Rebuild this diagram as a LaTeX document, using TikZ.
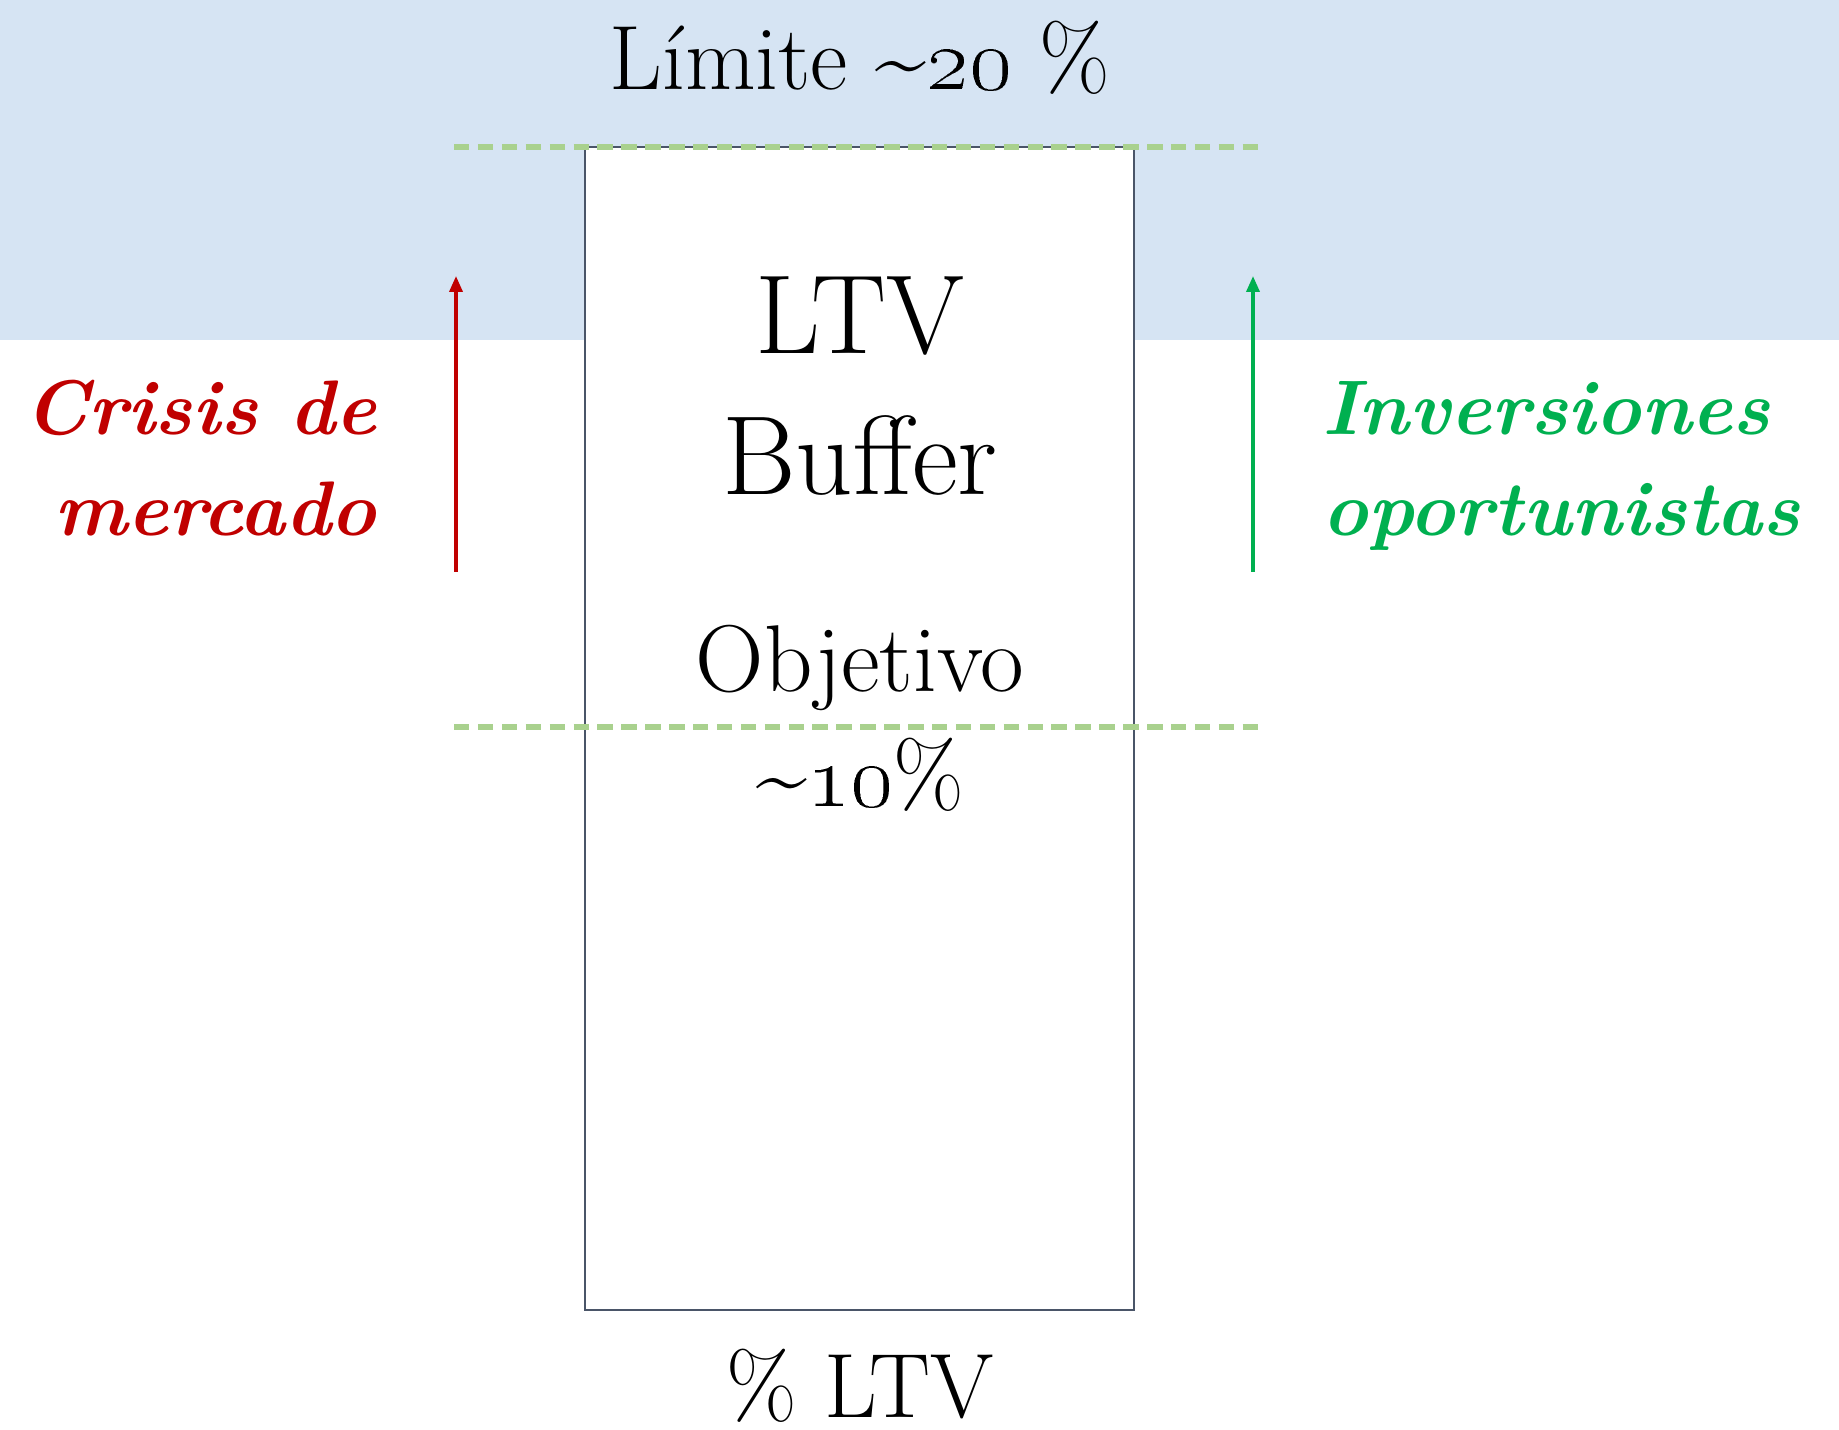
\documentclass[tikz,border=0pt]{standalone}
\usepackage{fix-cm}
\usetikzlibrary{arrows.meta}
\definecolor{fondo}{HTML}{D6E4F3}
\definecolor{guia}{HTML}{A9D18E}
\definecolor{rojo}{HTML}{C00000}
\definecolor{verde}{HTML}{00B050}
\definecolor{marco}{HTML}{4A5568}
\begin{document}
\begin{tikzpicture}[
    guide/.style={guia, line width=1.7pt, dash pattern=on 4.4pt off 2.4pt},
    flecha/.style={line width=1pt, -{Triangle[length=0.16cm,width=0.13cm]}},
    big/.style={anchor=base, font=\fontsize{32}{36}\selectfont},
    mid/.style={anchor=base, font=\fontsize{26}{30}\selectfont},
    side/.style={anchor=base, font=\fontsize{22}{29}\selectfont\bfseries\itshape}]
  \useasboundingbox (0,0) rectangle (18.39,-14.30);
  \fill[fondo] (0,0) rectangle (18.39,-3.40);
  \node[draw=marco, fill=white, line width=0.6pt, minimum width=5.49cm,
    minimum height=11.63cm, inner sep=0pt] (caja) at (8.595,-7.285) {};
  \coordinate (limitel) at (4.54,-1.47);
  \coordinate (limiter) at (12.62,-1.47);
  \coordinate (objl) at (4.54,-7.27);
  \coordinate (objr) at (12.62,-7.27);
  \draw[guide] (limitel) -- (limiter);
  \draw[guide] (objl) -- (objr);
  \node[mid] (titulo) at (8.60,-0.90) {Límite \textasciitilde\oldstylenums{20} \%};
  \node[big] (ltv) at (8.60,-3.54) {LTV};
  \node[big] (buffer) at (8.60,-4.95) {Buffer};
  \node[mid, font=\fontsize{27}{30}\selectfont] (objetivo) at (8.60,-6.92) {Objetivo};
  \node[mid] (diez) at (8.60,-8.07) {\textasciitilde\oldstylenums{10}\%};
  \node[mid] (pctltv) at (8.60,-14.17) {\% LTV};
  \node[side, rojo, anchor=base east, align=right] (crisis) at (3.89,-5.36)
    {Crisis de\\mercado};
  \node[side, verde, anchor=base west, align=left] (inversiones) at (13.10,-5.36)
    {Inversiones\\oportunistas};
  \coordinate (crisisbot) at (4.56,-5.72);
  \coordinate (crisistop) at (4.56,-2.76);
  \coordinate (invbot) at (12.53,-5.72);
  \coordinate (invtop) at (12.53,-2.76);
  \draw[flecha, rojo] (crisisbot) -- (crisistop);
  \draw[flecha, verde] (invbot) -- (invtop);
\end{tikzpicture}
\end{document}
